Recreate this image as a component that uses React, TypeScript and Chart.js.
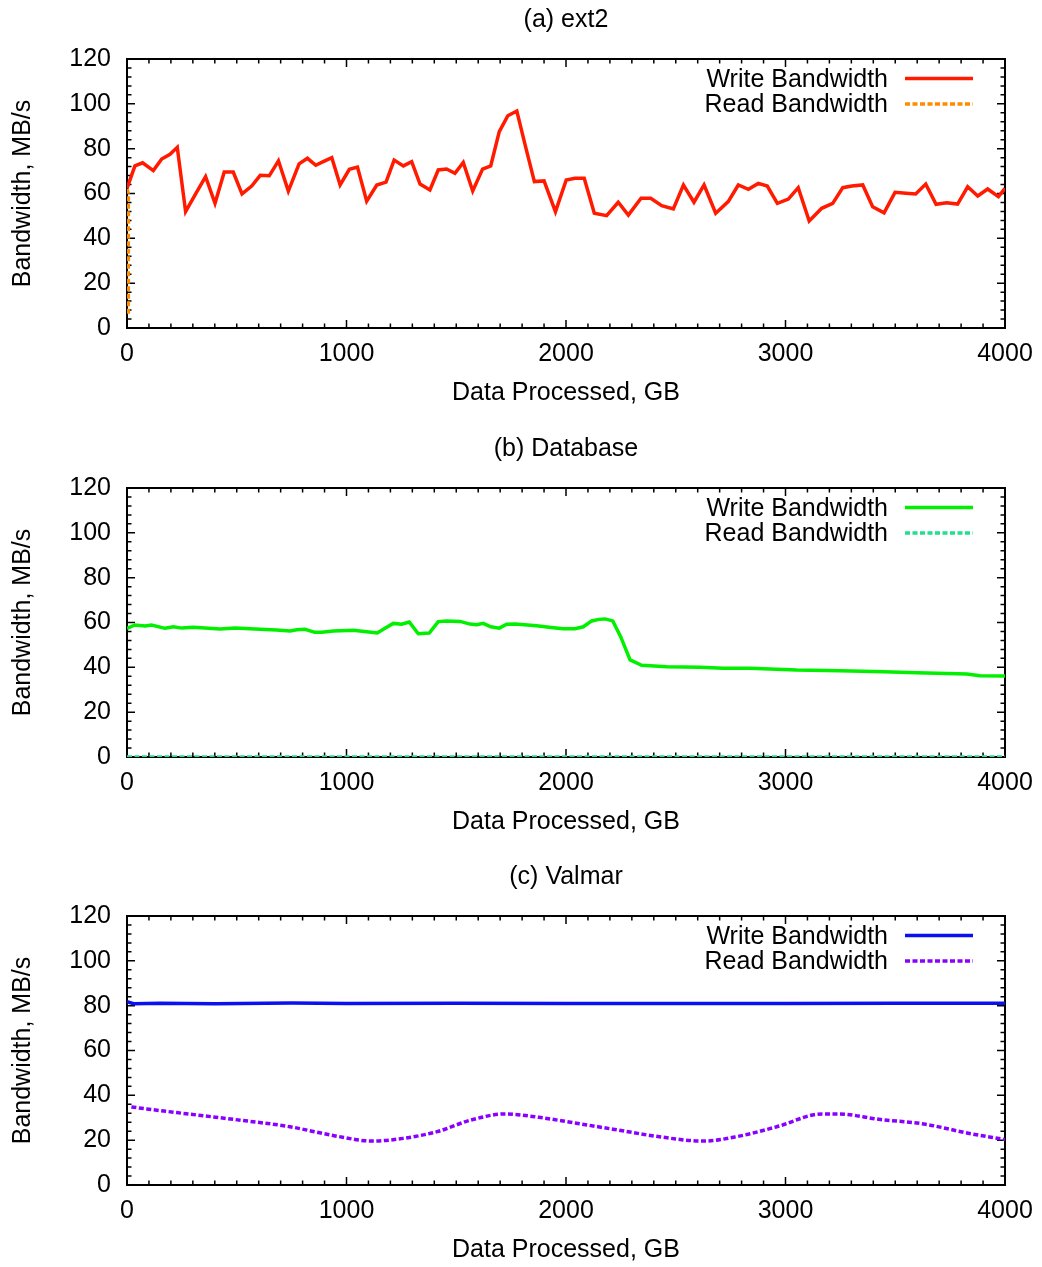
import React, { useEffect, useRef } from "react";
import { Chart, registerables } from "chart.js";

Chart.register(...registerables);

// ---------- data ----------
const xTickLabels = [0, 1000, 2000, 3000, 4000];
const yTickLabels = [0, 20, 40, 60, 80, 100, 120];

const panelTitles = ["(a) ext2", "(b) Database", "(c) Valmar"];
const seriesNames = ["Write Bandwidth", "Read Bandwidth"];

const ext2WriteX = [0, 36, 71, 120, 158, 196, 229, 267, 314, 358, 401, 443, 484, 524, 568, 607, 648, 690, 735, 784, 822, 860, 894, 933, 971, 1013, 1050, 1092, 1138, 1180, 1217, 1259, 1297, 1335, 1380, 1418, 1456, 1494, 1532, 1575, 1620, 1657, 1696, 1735, 1776, 1814, 1856, 1900, 1952, 2001, 2041, 2083, 2129, 2185, 2238, 2284, 2342, 2386, 2436, 2489, 2535, 2583, 2629, 2682, 2739, 2785, 2831, 2876, 2917, 2963, 3013, 3058, 3108, 3165, 3215, 3261, 3302, 3352, 3397, 3449, 3499, 3549, 3593, 3639, 3686, 3734, 3784, 3830, 3876, 3921, 3970, 4000];
const ext2WriteY = [62.3, 72.3, 73.7, 70.2, 75.4, 77.5, 80.6, 51.9, 60.1, 67.5, 55.6, 69.6, 69.6, 59.8, 63.3, 68.1, 67.9, 74.6, 61.1, 73.2, 75.7, 72.6, 74.2, 76, 63.8, 70.8, 71.8, 56.6, 63.8, 65.1, 74.9, 72.3, 74.2, 64.2, 61.6, 70.5, 70.9, 69, 73.9, 61.1, 70.9, 72.3, 87.6, 94.7, 96.8, 81.6, 65.3, 65.6, 51.9, 66, 66.8, 66.8, 51.2, 50.1, 56.1, 50.4, 57.9, 57.9, 54.6, 53.1, 63.8, 56.1, 63.8, 51.2, 56.4, 63.8, 61.9, 64.5, 63.3, 55.6, 57.5, 62.6, 47.7, 53.4, 55.6, 62.6, 63.3, 63.8, 54.1, 51.4, 60.5, 60.1, 59.8, 64.2, 55.2, 55.9, 55.3, 63, 58.9, 62, 58.6, 62.3];
const ext2ReadX = [0, 6, 6];
const ext2ReadY = [62, 60, 6];

const dbWriteX = [0, 36, 82, 112, 173, 211, 249, 302, 424, 492, 606, 682, 743, 773, 811, 856, 887, 940, 1031, 1092, 1140, 1183, 1213, 1251, 1286, 1327, 1377, 1418, 1456, 1517, 1563, 1593, 1623, 1657, 1696, 1730, 1768, 1866, 1942, 1988, 2041, 2079, 2117, 2150, 2178, 2213, 2249, 2292, 2345, 2459, 2610, 2717, 2838, 3051, 3248, 3446, 3598, 3826, 3886, 4000];
const dbWriteY = [57.4, 58.9, 58.4, 58.9, 57.4, 58.1, 57.5, 57.9, 57.1, 57.5, 57, 56.7, 56.2, 56.8, 57, 55.6, 55.6, 56.2, 56.5, 55.9, 55.3, 57.9, 59.6, 59.2, 60.2, 55, 55.3, 60.4, 60.7, 60.5, 59.3, 59, 59.6, 58.1, 57.5, 59.2, 59.3, 58.6, 57.7, 57.2, 57.2, 58.1, 60.7, 61.4, 61.6, 60.7, 53.7, 43.3, 40.9, 40.3, 40, 39.6, 39.6, 38.8, 38.5, 38, 37.6, 37, 36.3, 36.1];
const dbReadX = [0, 4000];
const dbReadY = [0, 0];

const valWriteX = [0, 30, 150, 400, 750, 1000, 1500, 2000, 2500, 3000, 3500, 4000];
const valWriteY = [81.8, 80.9, 81.1, 80.9, 81.2, 81, 81.1, 81, 81, 81, 81.1, 81.1];
const valReadX = [20, 226, 484, 742, 949, 1116, 1258, 1413, 1568, 1722, 1877, 2032, 2238, 2419, 2625, 2780, 2961, 3167, 3244, 3425, 3631, 3838, 4000];
const valReadY = [34.8, 32.3, 29.3, 26, 21.9, 19.6, 20.8, 23.8, 29, 31.7, 30.2, 27.8, 24.5, 21.6, 19.6, 21.6, 26, 31.7, 31.7, 29.3, 27.2, 23, 20.3];

// ---------- styling ----------
const FONT = "'Liberation Sans', Arial, Helvetica, sans-serif";
const FS = 25;

const toPts = (xs: number[], ys: number[]) => xs.map((x, i) => ({ x, y: ys[i] }));

const panels = [
  {
    title: panelTitles[0],
    top: 0,
    write: toPts(ext2WriteX, ext2WriteY),
    read: toPts(ext2ReadX, ext2ReadY),
    writeColor: "#ff1a00",
    readColor: "#ff8c00",
    smoothRead: false,
  },
  {
    title: panelTitles[1],
    top: 429,
    write: toPts(dbWriteX, dbWriteY),
    read: toPts(dbReadX, dbReadY),
    writeColor: "#00f000",
    readColor: "#20e090",
    smoothRead: false,
  },
  {
    title: panelTitles[2],
    top: 857,
    write: toPts(valWriteX, valWriteY),
    read: toPts(valReadX, valReadY),
    writeColor: "#0a10f0",
    readColor: "#8a00ff",
    smoothRead: true,
  },
];

const framePlugin = {
  id: "gnuframe",
  beforeDatasetsDraw(chart: any) {
    const { ctx, chartArea: a, scales } = chart;
    const x = scales.x;
    const y = scales.y;
    ctx.save();
    ctx.strokeStyle = "#000";
    ctx.lineWidth = 1.5;
    ctx.beginPath();
    for (let v = 0; v <= 4000; v += 100) {
      const px = x.getPixelForValue(v);
      const len = v % 1000 === 0 ? 8 : 4.5;
      ctx.moveTo(px, a.bottom);
      ctx.lineTo(px, a.bottom - len);
      ctx.moveTo(px, a.top);
      ctx.lineTo(px, a.top + len);
    }
    for (let v = 0; v <= 120; v += 4) {
      const py = y.getPixelForValue(v);
      const len = v % 20 === 0 ? 8 : 4.5;
      ctx.moveTo(a.left, py);
      ctx.lineTo(a.left + len, py);
      ctx.moveTo(a.right, py);
      ctx.lineTo(a.right - len, py);
    }
    ctx.stroke();
    ctx.lineWidth = 2;
    ctx.strokeRect(a.left, a.top, a.right - a.left, a.bottom - a.top);
    ctx.restore();
  },
  afterDatasetsDraw(chart: any) {
    const { ctx, chartArea: a } = chart;
    ctx.save();
    ctx.font = `${FS}px ${FONT}`;
    ctx.fillStyle = "#000";
    ctx.textBaseline = "middle";
    // title
    ctx.textAlign = "center";
    ctx.fillText(chart.options.plugins.gnuTitle.text, (a.left + a.right) / 2, a.top - 39);
    // legend
    chart.data.datasets.forEach((ds: any, i: number) => {
      const cy = a.top + 19.5 + i * 25.5;
      ctx.textAlign = "right";
      ctx.fillStyle = "#000";
      ctx.fillText(ds.label, a.right - 117, cy + 1.5);
      ctx.beginPath();
      ctx.strokeStyle = ds.borderColor;
      ctx.lineWidth = ds.borderWidth;
      ctx.setLineDash(ds.borderDash || []);
      ctx.moveTo(a.right - 100, cy);
      ctx.lineTo(a.right - 32, cy);
      ctx.stroke();
      ctx.setLineDash([]);
    });
    ctx.restore();
  },
};

function Panel({ p }: { p: (typeof panels)[number] }) {
  const ref = useRef<HTMLCanvasElement>(null);
  useEffect(() => {
    if (!ref.current) return;
    const font = { family: FONT, size: FS, lineHeight: 1.2 };
    const chart = new Chart(ref.current, {
      type: "line",
      data: {
        datasets: [
          {
            label: seriesNames[0],
            data: p.write,
            borderColor: p.writeColor,
            borderWidth: 3.5,
            pointRadius: 0,
            fill: false,
            tension: 0,
          },
          {
            label: seriesNames[1],
            data: p.read,
            borderColor: p.readColor,
            borderWidth: 3.5,
            borderDash: [5, 2.5],
            pointRadius: 0,
            fill: false,
            cubicInterpolationMode: p.smoothRead ? "monotone" : "default",
            tension: p.smoothRead ? 0.4 : 0,
          },
        ],
      } as any,
      options: {
        animation: false,
        responsive: false,
        devicePixelRatio: 1,
        layout: { padding: { top: 59, right: 37, left: 0, bottom: 0 } },
        plugins: {
          legend: { display: false },
          tooltip: { enabled: false },
          title: { display: false },
          gnuTitle: { text: p.title },
        } as any,
        scales: {
          x: {
            type: "linear",
            min: 0,
            max: 4000,
            afterBuildTicks: (s: any) => {
              s.ticks = xTickLabels.map((v) => ({ value: v }));
            },
            ticks: {
              color: "#000",
              font,
              padding: 11,
              maxRotation: 0,
              autoSkip: false,
              callback: (v: any) => String(v),
            },
            grid: { display: false, drawTicks: false },
            border: { display: false },
            title: { display: true, text: "Data Processed, GB", color: "#000", font, padding: { top: 0, bottom: 2 } },
            afterFit: (s: any) => {
              s.height = 82;
              s.paddingRight = 0;
              s.paddingLeft = 0;
            },
          },
          y: {
            type: "linear",
            min: 0,
            max: 120,
            afterBuildTicks: (s: any) => {
              s.ticks = yTickLabels.map((v) => ({ value: v }));
            },
            ticks: { color: "#000", font, padding: 16, autoSkip: false, callback: (v: any) => String(v) },
            grid: { display: false, drawTicks: false },
            border: { display: false },
            title: { display: true, text: "Bandwidth, MB/s", color: "#000", font, padding: { top: 8, bottom: 0 } },
            afterFit: (s: any) => {
              s.width = 127;
              s.paddingTop = 0;
              s.paddingBottom = 0;
            },
          },
        },
      } as any,
      plugins: [framePlugin],
    });
    return () => chart.destroy();
  }, []);
  return (
    <canvas
      ref={ref}
      width={1042}
      height={410}
      style={{ position: "absolute", left: 0, top: p.top, width: 1042, height: 410 }}
    />
  );
}

export default function App() {
  return (
    <div style={{ position: "absolute", left: 0, top: 0, width: 1042, height: 1267, background: "#fff" }}>
      {panels.map((p, i) => (
        <Panel key={i} p={p} />
      ))}
    </div>
  );
}
